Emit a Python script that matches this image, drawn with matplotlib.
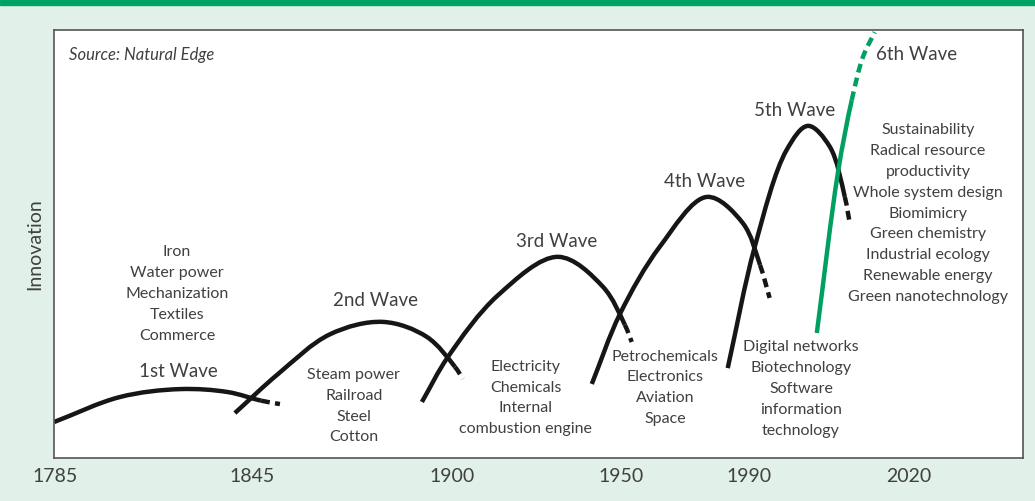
import numpy as np
import matplotlib
matplotlib.use("Agg")
import matplotlib.pyplot as plt
from matplotlib.patches import Rectangle, PathPatch
from matplotlib.path import Path

plt.rcParams['font.family'] = ['Lato', 'DejaVu Sans']

# tick years and where they sit along the (non-linear) axis
tick_years = [1785, 1845, 1900, 1950, 1990, 2020]
tick_labels = ['1785', '1845', '1900', '1950', '1990', '2020']
scale_years = [1700, 1785, 1845, 1900, 1950, 1990, 2020, 2100]
scale_pos = [-224, 55, 252, 452, 621, 749, 909, 1336]

# waves: (year, innovation); the tail is the dashed end
wave1_x = [1784.7, 1804.8, 1823.1, 1837.7, 1847.5]
wave1_y = [8.4, 14.25, 16.1, 15.4, 13.4]
wave1_tail_x = [1847.5, 1852.7]
wave1_tail_y = [13.4, 12.6]

wave2_x = [1839.8, 1852.15, 1866.45, 1881.0, 1893.1, 1900.9]
wave2_y = [10.5, 19.6, 28.9, 31.8, 28.3, 21.3]
wave2_tail_x = [1900.9, 1903.25]
wave2_tail_y = [21.3, 18.5]

wave3_x = [1891.75, 1898.9, 1913.6, 1931.4, 1944.7, 1951.25]
wave3_y = [13.1, 23.6, 38.0, 47.0, 40.0, 31.1]
wave3_tail_x = [1951.25, 1953.4]
wave3_tail_y = [31.1, 27.1]

wave4_x = [1941.4, 1949.7, 1962.2, 1976.9, 1988.1, 1992.1]
wave4_y = [17.3, 33.6, 49.4, 61.0, 54.9, 45.1]
wave4_tail_x = [1992.1, 1993.9]
wave4_tail_y = [45.1, 37.4]

wave5_x = [1983.4, 1991.1, 1997.1, 2001.1, 2005.2, 2008.0]
wave5_y = [21.0, 49.3, 72.0, 77.6, 72.7, 61.0]
wave5_tail_x = [2008.0, 2008.9]
wave5_tail_y = [61.0, 55.1]

wave6_x = [2002.75, 2006.7, 2009.3]
wave6_y = [29.2, 66.6, 83.6]
wave6_tail_x = [2009.3, 2011.4, 2013.6]
wave6_tail_y = [83.6, 93.7, 99.5]

wave_names = ['1st Wave', '2nd Wave', '3rd Wave', '4th Wave', '5th Wave', '6th Wave']
wave_topics = [
    ['Iron', 'Water power', 'Mechanization', 'Textiles', 'Commerce'],
    ['Steam power', 'Railroad', 'Steel', 'Cotton'],
    ['Electricity', 'Chemicals', 'Internal', 'combustion engine'],
    ['Petrochemicals', 'Electronics', 'Aviation', 'Space'],
    ['Digital networks', 'Biotechnology', 'Software', 'information', 'technology'],
    ['Sustainability', 'Radical resource', 'productivity', 'Whole system design',
     'Biomimicry', 'Green chemistry', 'Industrial ecology', 'Renewable energy',
     'Green nanotechnology'],
]

# label anchor points (year, innovation)
name_pos = [(1822.5, 20.1), (1879.1, 36.7), (1931.1, 50.5), (1976.3, 64.5), (1998.6, 81.3), (2021.5, 94.2)]
topic_pos = [(1822.2, 38.3), (1873.0, 12.1), (1921.9, 14.0), (1963.8, 16.4), (1999.8, 16.1), (2023.6, 57.1)]

BG = '#e1f0e8'
BAR = '#00a366'
GREEN = '#00a060'
INK = '#161616'
TXT = '#404040'


def fwd(x):
    return np.interp(x, scale_years, scale_pos)


def inv(x):
    return np.interp(x, scale_pos, scale_years)


def smooth_path(xs, ys):
    # centripetal catmull-rom through the points, as cubic bezier segments
    p = np.column_stack([fwd(np.asarray(xs, float)), np.asarray(ys, float) * 4.28])
    p = np.vstack([2 * p[0] - p[1], p, 2 * p[-1] - p[-2]])
    verts = [p[1]]
    codes = [Path.MOVETO]
    for i in range(1, len(p) - 2):
        p0, p1, p2, p3 = p[i - 1], p[i], p[i + 1], p[i + 2]
        d1 = np.hypot(*(p1 - p0)) ** 0.5
        d2 = np.hypot(*(p2 - p1)) ** 0.5
        d3 = np.hypot(*(p3 - p2)) ** 0.5
        c1 = (d1 ** 2 * p2 - d2 ** 2 * p0 + (2 * d1 ** 2 + 3 * d1 * d2 + d2 ** 2) * p1) / (3 * d1 * (d1 + d2))
        c2 = (d3 ** 2 * p1 - d2 ** 2 * p3 + (2 * d3 ** 2 + 3 * d3 * d2 + d2 ** 2) * p2) / (3 * d3 * (d3 + d2))
        verts += [c1, c2, p2]
        codes += [Path.CURVE4] * 3
    verts = np.array(verts)
    verts[:, 0] = inv(verts[:, 0])
    verts[:, 1] = verts[:, 1] / 4.28
    return Path(verts, codes)


def draw_wave(ax, xs, ys, tx, ty, color):
    full_x = list(xs) + list(tx[1:])
    full_y = list(ys) + list(ty[1:])
    whole = smooth_path(full_x, full_y)
    n_solid = len(xs) - 1
    v, c = whole.vertices, whole.codes
    solid = Path(v[:1 + 3 * n_solid], c[:1 + 3 * n_solid])
    tail = Path(v[3 * n_solid:], np.r_[Path.MOVETO, c[3 * n_solid + 1:]])
    ax.add_patch(PathPatch(solid, fill=False, edgecolor=color, lw=3.2, capstyle='butt'))
    ax.add_patch(PathPatch(tail, fill=False, edgecolor=color, lw=3.2, capstyle='butt',
                           ls=(0, (2, 1.2))))


fig = plt.figure(figsize=(10.35, 5.01), dpi=100, facecolor=BG)
fig.patches.append(Rectangle((0, 1 - 5 / 501), 1, 5 / 501, transform=fig.transFigure,
                             color=BAR, zorder=0))
ax = fig.add_axes([54 / 1035, 43 / 501, 969 / 1035, 428 / 501])
ax.set_facecolor('white')
ax.set_xscale('function', functions=(fwd, inv))

draw_wave(ax, wave1_x, wave1_y, wave1_tail_x, wave1_tail_y, INK)
draw_wave(ax, wave2_x, wave2_y, wave2_tail_x, wave2_tail_y, INK)
draw_wave(ax, wave3_x, wave3_y, wave3_tail_x, wave3_tail_y, INK)
draw_wave(ax, wave4_x, wave4_y, wave4_tail_x, wave4_tail_y, INK)
draw_wave(ax, wave5_x, wave5_y, wave5_tail_x, wave5_tail_y, INK)
draw_wave(ax, wave6_x, wave6_y, wave6_tail_x, wave6_tail_y, GREEN)

for name, (x, y) in zip(wave_names, name_pos):
    ax.text(x, y, name, ha='center', va='center', fontsize=13.5, color=TXT)
for topics, (x, y) in zip(wave_topics, topic_pos):
    ax.text(x, y, '\n'.join(topics), ha='center', va='center', fontsize=11.5,
            color=TXT, linespacing=1.62)

ax.text(0.0155, 0.942, 'Source: Natural Edge', transform=ax.transAxes, ha='left', va='center',
        fontsize=12, style='italic', color=TXT)

ax.set_xlim(1784.7, 2041.4)
ax.set_ylim(0, 100)
ax.set_xticks(tick_years)
ax.set_xticklabels(tick_labels, fontsize=14, color=TXT)
ax.set_yticks([])
ax.tick_params(axis='x', length=0, pad=7)
ax.set_ylabel('Innovation', fontsize=14, color=TXT, labelpad=8)
for s in ax.spines.values():
    s.set_color('#555555')
    s.set_linewidth(1.2)

fig.savefig('out.png', dpi=100, facecolor=BG)
